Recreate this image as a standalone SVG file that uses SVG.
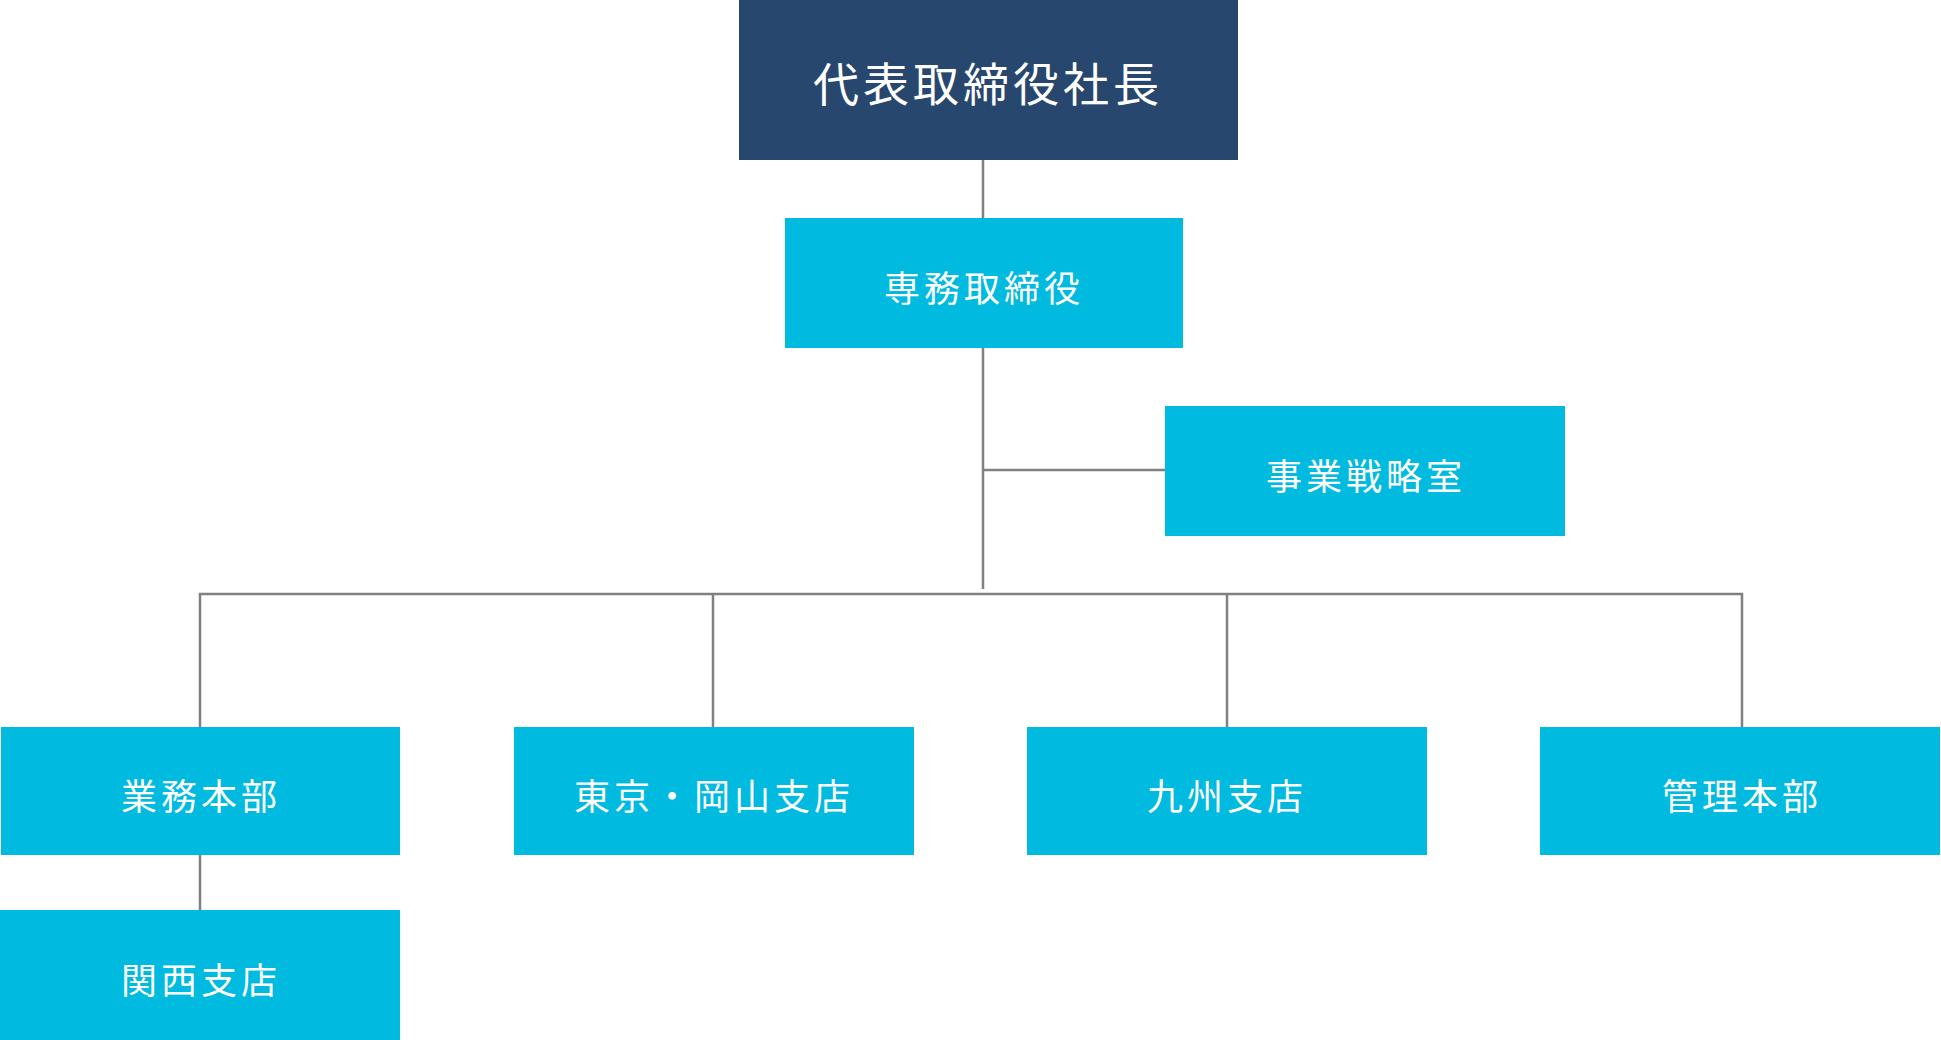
<svg xmlns="http://www.w3.org/2000/svg" width="1941" height="1040" viewBox="0 0 1941 1040">
<style>
.b{fill:#00BAE0}
.t{fill:#fff;font-family:"Noto Sans CJK JP",sans-serif;font-size:36px;letter-spacing:4px;text-anchor:middle;dominant-baseline:central}
.c{stroke:#808080;stroke-width:2.5;fill:none}
</style>
<rect width="1941" height="1040" fill="#fff"/>
<g id="connectors" class="c">
<path d="M983 160V589M983 470H1165M200 727V594H1742V727M713 594V727M1227 594V727M200 855V910"/>
</g>
<g id="ceo"><rect x="739" y="0" width="499" height="160" fill="#27476E"/><text class="t" x="988" y="81" style="font-size:46px">代表取締役社長</text></g>
<g id="senmu"><rect class="b" x="785" y="218" width="398" height="130"/><text class="t" x="984" y="286">専務取締役</text></g>
<g id="senryaku"><rect class="b" x="1165" y="406" width="400" height="130"/><text class="t" x="1366" y="474">事業戦略室</text></g>
<g id="gyomu"><rect class="b" x="1" y="727" width="399" height="128"/><text class="t" x="201" y="794">業務本部</text></g>
<g id="tokyo"><rect class="b" x="514" y="727" width="400" height="128"/><text class="t" x="714" y="794">東京・岡山支店</text></g>
<g id="kyushu"><rect class="b" x="1027" y="727" width="400" height="128"/><text class="t" x="1227" y="794">九州支店</text></g>
<g id="kanri"><rect class="b" x="1540" y="727" width="400" height="128"/><text class="t" x="1742" y="794">管理本部</text></g>
<g id="kansai"><rect class="b" x="0" y="910" width="400" height="130"/><text class="t" x="201" y="978">関西支店</text></g>
</svg>
